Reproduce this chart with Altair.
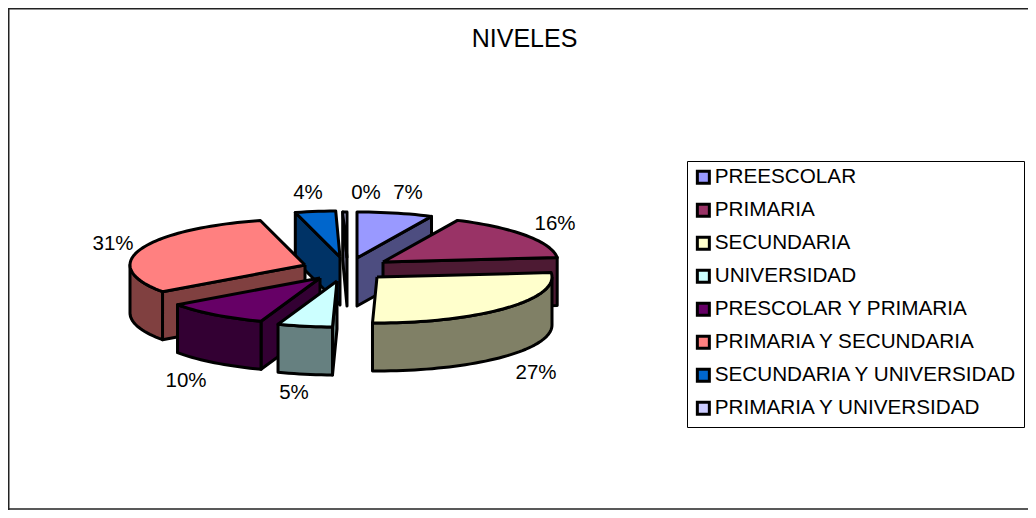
import math
import altair as alt
import pandas as pd

# Chart values (percent; labels are their rounded forms)
categories = ["PREESCOLAR", "PRIMARIA", "SECUNDARIA", "UNIVERSIDAD",
              "PRESCOLAR Y PRIMARIA", "PRIMARIA Y SECUNDARIA",
              "SECUNDARIA Y UNIVERSIDAD", "PRIMARIA Y UNIVERSIDAD"]
values = [7.0, 16.47, 26.94, 5.06, 9.67, 30.75, 3.72, 0.39]
top_colors = ["#9999FF", "#993366", "#FFFFCC", "#CCFFFF",
              "#660066", "#FF8080", "#0066CC", "#CCCCFF"]
side_colors = ["#4D4D80", "#4D1A33", "#808066", "#668080",
               "#330033", "#804040", "#003366", "#666680"]

# Layout of the 3-D pie, separate from the data
RX, RY, DEPTH = 175, 46, 48
explode_x = [357, 383, 377, 337, 320, 305, 340, 347]
explode_y = [258, 262, 277, 281, 278, 265, 257, 258]
label_x = [408, 555, 536, 294, 186, 113, 308, 366]
label_y = [193, 224, 373, 393, 381, 244, 193, 193]
draw_order = [7, 6, 0, 1, 5, 4, 2, 3]

rows = []
poly_id = 0


def add_poly(points, color):
    global poly_id
    closed = points + [points[0]]
    for i, (px, py) in enumerate(closed):
        rows.append({"poly": f"p{poly_id:03d}", "i": i, "px": px, "py": py, "fill": color})
    poly_id += 1


def rim(cx, cy, deg):
    rad = math.radians(deg)
    return (cx + RX * math.sin(rad), cy - RY * math.cos(rad))


def arc(cx, cy, a, b, step=2.0):
    n = max(1, int(math.ceil(abs(b - a) / step)))
    return [rim(cx, cy, a + (b - a) * k / n) for k in range(n + 1)]


def drop(points):
    return [(x, y + DEPTH) for x, y in points]


starts = []
total = 0.0
for v in values:
    starts.append(total)
    total += v
scale = 360.0 / total

for s in draw_order:
    a = starts[s] * scale
    b = (starts[s] + values[s]) * scale
    cx, cy = explode_x[s], explode_y[s]
    if math.sin(math.radians(a)) < 0:
        p = rim(cx, cy, a)
        add_poly([(cx, cy), p, (p[0], p[1] + DEPTH), (cx, cy + DEPTH)], side_colors[s])
    if math.sin(math.radians(b)) > 0.01:
        p = rim(cx, cy, b)
        add_poly([(cx, cy), p, (p[0], p[1] + DEPTH), (cx, cy + DEPTH)], side_colors[s])
    lo, hi = max(a, 90), min(b, 270)
    if hi > lo:
        edge = arc(cx, cy, lo, hi)
        add_poly(edge + drop(edge)[::-1], side_colors[s])
    add_poly([(cx, cy)] + arc(cx, cy, a, b), top_colors[s])

poly_df = pd.DataFrame(rows)

x_scale = alt.Scale(domain=[8, 1028], range="width", nice=False, zero=False)
y_scale = alt.Scale(domain=[8, 510], reverse=True, nice=False, zero=False)

pie = alt.Chart(poly_df).mark_line(
    stroke="black", strokeWidth=3, strokeJoin="round", clip=False
).encode(
    x=alt.X("px:Q", scale=x_scale, axis=None),
    y=alt.Y("py:Q", scale=y_scale, axis=None),
    fill=alt.Fill("fill:N", scale=None),
    detail="poly:N",
    order="i:Q",
)

label_df = pd.DataFrame({
    "px": label_x, "py": label_y,
    "text": [f"{round(v)}%" for v in values],
})
labels = alt.Chart(label_df).mark_text(
    font="Liberation Sans", fontSize=20.5, color="black", align="center", baseline="middle"
).encode(
    x=alt.X("px:Q", scale=x_scale, axis=None),
    y=alt.Y("py:Q", scale=y_scale, axis=None),
    text="text:N",
)

title_df = pd.DataFrame({"px": [524.5], "py": [38.5], "text": ["NIVELES"]})
title = alt.Chart(title_df).mark_text(
    font="Liberation Sans", fontSize=25, color="black", align="center", baseline="middle"
).encode(
    x=alt.X("px:Q", scale=x_scale, axis=None),
    y=alt.Y("py:Q", scale=y_scale, axis=None),
    text="text:N",
)

# Open-sided frame: the reference's border runs off the right of the picture
frame_top = alt.Chart(pd.DataFrame({"k": [0]})).mark_rule(color="#222222", strokeWidth=1.5).encode(
    x=alt.value(0), x2=alt.value(1020), y=alt.value(0.75))
frame_bottom = alt.Chart(pd.DataFrame({"k": [0]})).mark_rule(color="#222222", strokeWidth=1.5).encode(
    x=alt.value(0), x2=alt.value(1020), y=alt.value(501))
frame_left = alt.Chart(pd.DataFrame({"k": [0]})).mark_rule(color="#222222", strokeWidth=1.5).encode(
    x=alt.value(0.75), y=alt.value(0), y2=alt.value(502))

legend_df = pd.DataFrame({"cat": categories, "px": [700] * 8, "py": [300] * 8})
legend_layer = alt.Chart(legend_df).mark_square(size=0).encode(
    x=alt.X("px:Q", scale=x_scale, axis=None),
    y=alt.Y("py:Q", scale=y_scale, axis=None),
    color=alt.Color(
        "cat:N",
        sort=categories,
        scale=alt.Scale(domain=categories, range=top_colors),
        legend=alt.Legend(
            title=None, orient="none", legendX=679, legendY=153,
            fillColor="white", strokeColor="black", padding=6,
            symbolType="square", symbolSize=144, symbolStrokeColor="black",
            symbolStrokeWidth=3, symbolOpacity=1,
            labelFont="Liberation Sans", labelFontSize=20.7, labelColor="black",
            labelLimit=400, labelOffset=1, rowPadding=8, symbolOffset=0,
        ),
    ),
)

chart = alt.layer(frame_top, frame_bottom, frame_left, pie, labels, title, legend_layer).properties(
    width=1020, height=502, padding=0,
    autosize=alt.AutoSizeParams(type="none"),
).configure_view(stroke=None)

chart.save("out.html", embed_options={"renderer": "svg", "actions": False})
